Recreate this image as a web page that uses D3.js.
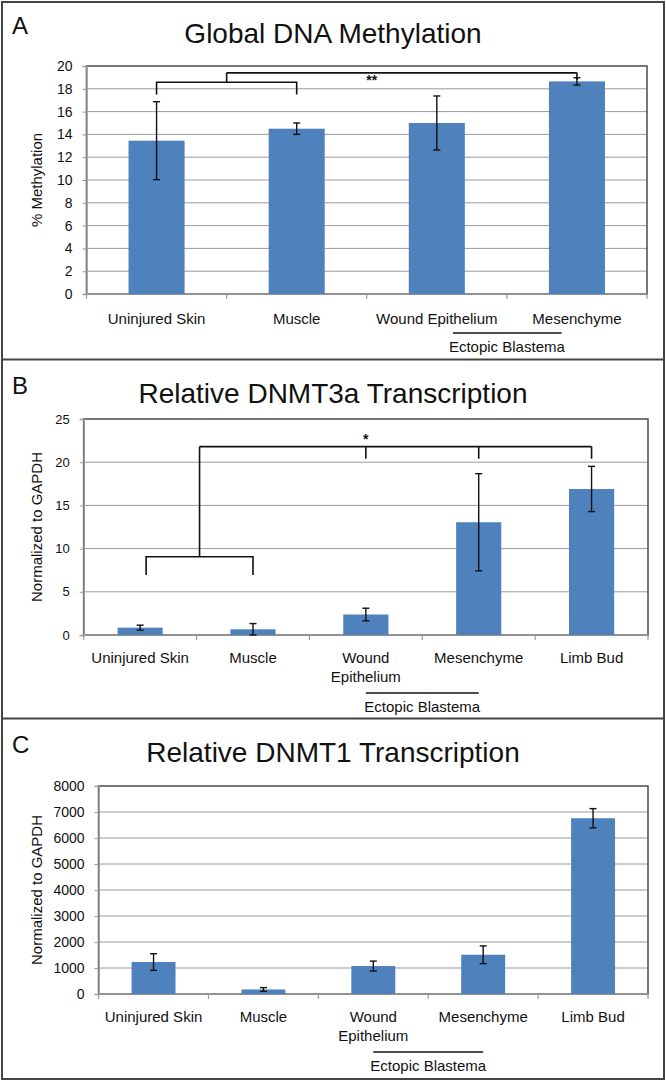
<!DOCTYPE html>
<html><head><meta charset="utf-8">
<script src="https://cdn.jsdelivr.net/npm/d3@7"></script>
<style>
body{margin:0;background:#fff}
svg{display:block}
text{font-family:"Liberation Sans",Arial,Helvetica,sans-serif;fill:#111}
</style>
</head><body>
<svg id="c" width="666" height="1082"></svg>
<script>
// ---------- DATA ----------
const categoriesA = ["Uninjured Skin", "Muscle", "Wound Epithelium", "Mesenchyme"];
const labelLinesA = [["Uninjured Skin"], ["Muscle"], ["Wound Epithelium"], ["Mesenchyme"]];
const methylation = [13.45, 14.5, 15.0, 18.65];
const methylationErr = [3.42, 0.5, 2.37, 0.32];
const ticksA = [0, 2, 4, 6, 8, 10, 12, 14, 16, 18, 20];

const categoriesBC = ["Uninjured Skin", "Muscle", "Wound Epithelium", "Mesenchyme", "Limb Bud"];
const labelLinesBC = [["Uninjured Skin"], ["Muscle"], ["Wound", "Epithelium"], ["Mesenchyme"], ["Limb Bud"]];
const dnmt3a = [0.85, 0.66, 2.37, 13.05, 16.9];
const dnmt3aErr = [0.29, 0.66, 0.73, 5.62, 2.62];
const ticksB = [0, 5, 10, 15, 20, 25];

const dnmt1 = [1230, 175, 1075, 1510, 6760];
const dnmt1Err = [320, 70, 190, 340, 370];
const ticksC = [0, 1000, 2000, 3000, 4000, 5000, 6000, 7000, 8000];

const titles = ["Global DNA Methylation", "Relative DNMT3a Transcription", "Relative DNMT1 Transcription"];
const panelLetters = ["A", "B", "C"];
const yTitles = ["% Methylation", "Normalized to GAPDH", "Normalized to GAPDH"];
const groupLabel = "Ectopic Blastema";
const groupMembers = ["Wound Epithelium", "Mesenchyme"];

// significance annotations (value levels)
const sigA = {left: ["Uninjured Skin", "Muscle"], leftLevel: 18.57, leftLeg: 17.5,
              right: ["Mesenchyme"], mainLevel: 19.4, rightLeg: 18.77, mark: "**", markLevel: 18.3};
const sigB = {left: ["Uninjured Skin", "Muscle"], leftLevel: 9.06, leftLeg: 6.94,
              right: ["Wound Epithelium", "Mesenchyme", "Limb Bud"], mainLevel: 21.8, rightLeg: 20.4, mark: "*", markLevel: 22.1};

// ---------- LAYOUT ----------
const svg = d3.select("#c");
svg.append("rect").attr("x", 2).attr("y", 2).attr("width", 662).attr("height", 1077)
  .attr("fill", "none").attr("stroke", "#444").attr("stroke-width", 2);
svg.append("line").attr("x1", 2).attr("x2", 664).attr("y1", 359.5).attr("y2", 359.5).attr("stroke", "#444").attr("stroke-width", 2);
svg.append("line").attr("x1", 2).attr("x2", 664).attr("y1", 718.5).attr("y2", 718.5).attr("stroke", "#444").attr("stroke-width", 2);

const panels = [
  {cats: categoriesA, lines: labelLinesA, vals: methylation, errs: methylationErr, ticks: ticksA,
   left: 86.5, right: 647, top: 66, bottom: 294, off: 0, tickSize: 14, wideGroup: true, sig: sigA, legOff: 0},
  {cats: categoriesBC, lines: labelLinesBC, vals: dnmt3a, errs: dnmt3aErr, ticks: ticksB,
   left: 83.7, right: 648, top: 419, bottom: 635, off: 360, tickSize: 13, wideGroup: false, sig: sigB, legOff: 6},
  {cats: categoriesBC, lines: labelLinesBC, vals: dnmt1, errs: dnmt1Err, ticks: ticksC,
   left: 98.6, right: 648, top: 786, bottom: 994, off: 719, tickSize: 14, wideGroup: false, sig: null, legOff: 0}
];

panels.forEach((p, i) => {
  const g = svg.append("g");
  const x = d3.scaleBand().domain(p.cats).range([p.left, p.right]).paddingInner(0.6).paddingOuter(0.3);
  const xb = d3.scaleBand().domain(p.cats).range([p.left, p.right]);
  const y = d3.scaleLinear().domain([p.ticks[0], p.ticks[p.ticks.length - 1]]).range([p.bottom, p.top]);
  const cx = c => xb(c) + xb.bandwidth() / 2;

  // letter & title
  g.append("text").attr("x", 12).attr("y", p.off + 34).attr("font-size", 24).text(panelLetters[i]);
  g.append("text").attr("x", 333).attr("y", p.off + 43).attr("font-size", 28)
    .attr("text-anchor", "middle").text(titles[i]);

  // gridlines
  g.append("g").selectAll("line").data(p.ticks.slice(1, -1)).join("line")
    .attr("x1", p.left).attr("x2", p.right).attr("y1", d => y(d)).attr("y2", d => y(d))
    .attr("stroke", "#9a9a9a").attr("stroke-width", 1);

  // plot frame (top/right dark)
  g.append("rect").attr("x", p.left).attr("y", p.top).attr("width", p.right - p.left).attr("height", p.bottom - p.top)
    .attr("fill", "none").attr("stroke", "#555").attr("stroke-width", 1.6);

  // y axis
  const ya = d3.axisLeft(y).tickValues(p.ticks).tickSize(4).tickPadding(10).tickFormat(d3.format("d"));
  const yg = g.append("g").attr("transform", `translate(${p.left},0)`).call(ya);
  yg.select(".domain").attr("stroke", "#9a9a9a").attr("stroke-width", 1.4);
  yg.selectAll(".tick line").attr("stroke", "#9a9a9a");
  yg.selectAll(".tick text").attr("font-size", p.tickSize).attr("fill", "#111")
    .attr("font-family", '"Liberation Sans",Arial,sans-serif');

  // x axis with ticks at band boundaries
  g.append("line").attr("x1", p.left).attr("x2", p.right).attr("y1", p.bottom).attr("y2", p.bottom)
    .attr("stroke", "#9a9a9a").attr("stroke-width", 1.4);
  const bounds = p.cats.map(c => xb(c)).concat([p.right]);
  g.append("g").selectAll("line").data(bounds).join("line")
    .attr("x1", d => d).attr("x2", d => d).attr("y1", p.bottom).attr("y2", p.bottom + 5)
    .attr("stroke", "#9a9a9a").attr("stroke-width", 1.2);

  // bars
  g.append("g").selectAll("rect").data(p.vals).join("rect")
    .attr("x", (d, k) => x(p.cats[k])).attr("width", x.bandwidth())
    .attr("y", d => y(d)).attr("height", d => y(0) - y(d))
    .attr("fill", "#4f81bd");

  // error bars
  const eg = g.append("g").attr("stroke", "#111").attr("stroke-width", 1.4);
  p.vals.forEach((v, k) => {
    const c = cx(p.cats[k]);
    const lo = Math.max(0, v - p.errs[k]), hi = v + p.errs[k];
    eg.append("line").attr("x1", c).attr("x2", c).attr("y1", y(lo)).attr("y2", y(hi));
    eg.append("line").attr("x1", c - 3.5).attr("x2", c + 3.5).attr("y1", y(hi)).attr("y2", y(hi));
    eg.append("line").attr("x1", c - 3.5).attr("x2", c + 3.5).attr("y1", y(lo)).attr("y2", y(lo));
  });

  // category labels
  const lineY = i === 0 ? [324] : [p.off + 303, p.off + 322];
  p.cats.forEach((c, k) => {
    const t = g.append("text").attr("text-anchor", "middle").attr("font-size", 15);
    p.lines[k].forEach((ln, j) => {
      t.append("tspan").attr("x", cx(c)).attr("y", lineY[j]).text(ln);
    });
  });

  // group (Ectopic Blastema)
  const gy = i === 0 ? 333 : p.off + 333;
  let gx1, gx2;
  if (p.wideGroup) {
    const mid = xb(groupMembers[1]);
    gx1 = mid - 0.385 * xb.bandwidth(); gx2 = mid + 0.39 * xb.bandwidth();
  } else {
    gx1 = cx(groupMembers[0]); gx2 = cx(groupMembers[1]);
  }
  g.append("line").attr("x1", gx1).attr("x2", gx2).attr("y1", gy).attr("y2", gy)
    .attr("stroke", "#111").attr("stroke-width", 1.3);
  g.append("text").attr("x", xb(groupMembers[1])).attr("y", gy + 19).attr("text-anchor", "middle")
    .attr("font-size", 15).text(groupLabel);

  // y title
  const ym = (p.top + p.bottom) / 2;
  g.append("text").attr("transform", `translate(42,${ym}) rotate(-90)`).attr("text-anchor", "middle")
    .attr("font-size", 15).text(yTitles[i]);

  // significance brackets
  if (p.sig) {
    const s = p.sig;
    const bg = g.append("g").attr("stroke", "#111").attr("stroke-width", 1.6).attr("fill", "none");
    const lx = s.left.map(cx);
    lx[0] += p.legOff;
    const leftMid = (lx[0] + lx[lx.length - 1]) / 2;
    bg.append("path").attr("d",
      `M${lx[0]},${y(s.leftLeg)}V${y(s.leftLevel)}H${lx[lx.length - 1]}V${y(s.leftLeg)}`);
    bg.append("path").attr("d", `M${leftMid},${y(s.leftLevel)}V${y(s.mainLevel)}`);
    const rx = s.right.map(cx);
    bg.append("path").attr("d", `M${leftMid},${y(s.mainLevel)}H${rx[rx.length - 1]}`);
    rx.forEach(r => bg.append("path").attr("d", `M${r},${y(s.mainLevel)}V${y(s.rightLeg)}`));
    const markX = i === 0 ? xb(p.cats[2]) + 5 : cx(s.right[0]);
    g.append("text").attr("x", markX).attr("y", y(s.markLevel)).attr("text-anchor", "middle")
      .attr("font-size", 14).attr("font-weight", "bold").text(s.mark);
  }
});
</script>
</body></html>
